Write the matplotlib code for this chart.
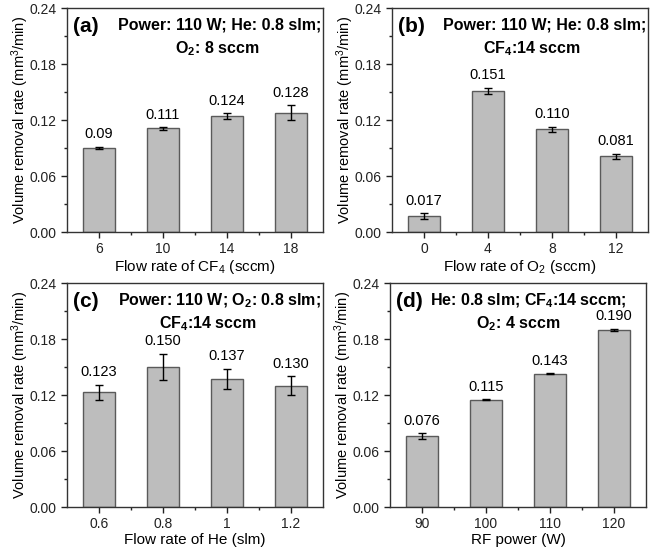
import matplotlib
matplotlib.use("Agg")
import matplotlib.pyplot as plt
from matplotlib.ticker import MultipleLocator, FixedLocator

plt.rcParams['font.family'] = ['Liberation Sans', 'DejaVu Sans']
plt.rcParams['mathtext.fontset'] = 'custom'
plt.rcParams['mathtext.rm'] = 'Liberation Sans'
plt.rcParams['mathtext.it'] = 'Liberation Sans:italic'
plt.rcParams['mathtext.bf'] = 'Liberation Sans:bold'

# panel data
cf4_flow = ['6', '10', '14', '18']
cf4_rate = [0.090, 0.111, 0.124, 0.128]
cf4_err = [0.0012, 0.0012, 0.003, 0.008]
cf4_text = ['0.09', '0.111', '0.124', '0.128']

o2_flow = ['0', '4', '8', '12']
o2_rate = [0.017, 0.151, 0.110, 0.081]
o2_err = [0.003, 0.0035, 0.003, 0.003]
o2_text = ['0.017', '0.151', '0.110', '0.081']

he_flow = ['0.6', '0.8', '1', '1.2']
he_rate = [0.123, 0.150, 0.137, 0.130]
he_err = [0.008, 0.014, 0.011, 0.010]
he_text = ['0.123', '0.150', '0.137', '0.130']

rf_power = ['90', '100', '110', '120']
rf_rate = [0.076, 0.115, 0.143, 0.190]
rf_err = [0.003, 0.0006, 0.0004, 0.0009]
rf_text = ['0.076', '0.115', '0.143', '0.190']

# (tag, condition lines, x label, categories, values, errors, value text, axes rect, line centres)
panels = [
    ('(a)', ['Power: 110 W; He: 0.8 slm;', 'O$_\\mathbf{2}$: 8 sccm'],
     'Flow rate of CF$_4$ (sccm)', cf4_flow, cf4_rate, cf4_err, cf4_text,
     [0.1024, 0.5797, 0.3914, 0.4058], (0.598, 0.586)),
    ('(b)', ['Power: 110 W; He: 0.8 slm;', 'CF$_\\mathbf{4}$:14 sccm'],
     'Flow rate of O$_2$ (sccm)', o2_flow, o2_rate, o2_err, o2_text,
     [0.5994, 0.5797, 0.3914, 0.4058], (0.598, 0.547)),
    ('(c)', ['Power: 110 W; O$_\\mathbf{2}$: 0.8 slm;', 'CF$_\\mathbf{4}$:14 sccm'],
     'Flow rate of He (slm)', he_flow, he_rate, he_err, he_text,
     [0.1024, 0.0815, 0.3914, 0.4058], (0.594, 0.551)),
    ('(d)', ['He: 0.8 slm; CF$_\\mathbf{4}$:14 sccm;', 'O$_\\mathbf{2}$: 4 sccm'],
     'RF power (W)', rf_power, rf_rate, rf_err, rf_text,
     [0.5963, 0.0815, 0.3914, 0.4058], (0.54, 0.502)),
]

fig = plt.figure(figsize=(6.54, 5.52), dpi=100)

for tag, cond, xlabel, cats, vals, errs, texts, rect, centres in panels:
    ax = fig.add_axes(rect)
    x = list(range(1, len(cats) + 1))
    ax.bar(x, vals, width=0.5, color='#bdbdbd', edgecolor='#5a5a5a', linewidth=1.0, zorder=2)
    ax.errorbar(x, vals, yerr=errs, fmt='none', ecolor='black', elinewidth=1.0,
                capsize=3, capthick=1.0, zorder=3)
    for xi, v, e, t in zip(x, vals, errs, texts):
        ax.annotate(t, (xi, v + e), xytext=(0, 4), textcoords='offset points',
                    ha='center', va='bottom', fontsize=10.5)

    ax.set_xlim(0.5, len(cats) + 0.5)
    ax.set_ylim(0, 0.24)
    ax.set_xticks(x)
    ax.set_xticklabels(cats)
    ax.xaxis.set_minor_locator(FixedLocator([1.5, 2.5, 3.5]))
    ax.yaxis.set_major_locator(MultipleLocator(0.06))
    ax.yaxis.set_minor_locator(MultipleLocator(0.03))
    ax.yaxis.set_major_formatter(plt.FormatStrFormatter('%.2f'))
    ax.tick_params(which='major', direction='out', length=4, width=1, labelsize=10, colors='#222222')
    ax.tick_params(which='minor', direction='out', length=2, width=1, colors='#222222')
    for s in ax.spines.values():
        s.set_color('#333333')
        s.set_linewidth(1.0)

    ax.set_xlabel(xlabel, fontsize=11, labelpad=1)
    ax.set_ylabel('Volume removal rate (mm$^3$/min)', fontsize=10.5, labelpad=-1)

    ax.text(0.025, 0.895, tag, transform=ax.transAxes, ha='left', va='baseline',
            fontsize=15, fontweight='bold')
    # two condition lines, placed separately
    ax.text(centres[0], 0.902, cond[0], transform=ax.transAxes, ha='center', va='baseline',
            fontsize=11.5, fontweight='bold')
    ax.text(centres[1], 0.80, cond[1], transform=ax.transAxes, ha='center', va='baseline',
            fontsize=11.5, fontweight='bold')

fig.savefig('out.png', dpi=100)
